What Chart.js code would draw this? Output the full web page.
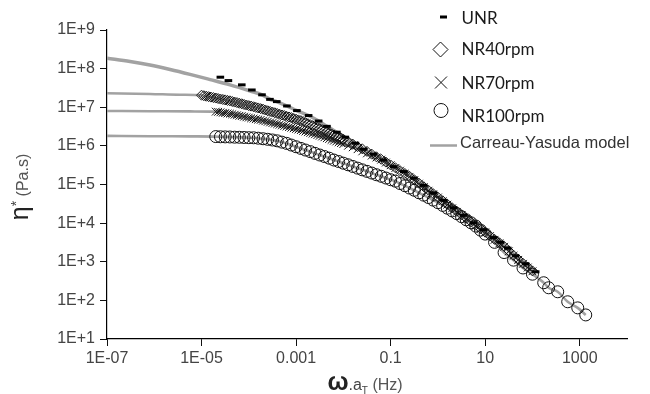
<!DOCTYPE html>
<html>
<head>
<meta charset="utf-8">
<script src="https://cdn.jsdelivr.net/npm/chart.js@4.4.1/dist/chart.umd.min.js"></script>
<style>
  html, body { margin: 0; padding: 0; background: #fff; }
  #wrap { width: 650px; height: 394px; }
</style>
</head>
<body>
<div id="wrap"><canvas id="chart" width="650" height="394"></canvas></div>
<script>
// Complex viscosity master curves (eta*, Pa.s) vs reduced frequency (Hz)

const unrFreq = [2.5e-5, 3.7e-5, 7.1e-5, 1.16e-4, 1.9e-4, 2.8e-4, 3.9e-4, 6.4e-4, 1.04e-3, 1.84e-3,
  3.0e-3, 4.5e-3, 7.3e-3, 0.011, 0.018, 0.027, 0.044, 0.071, 0.116, 0.19,
  0.31, 0.50, 0.81, 1.32, 2.14, 3.5, 5.7, 9.2, 15, 21, 30, 44, 72, 117];
const unrEta = [6.0e7, 4.9e7, 3.8e7, 2.8e7, 2.1e7, 1.6e7, 1.4e7, 1.08e7, 8.2e6, 6.1e6,
  4.4e6, 3.2e6, 2.26e6, 1.68e6, 1.17e6, 8.2e5, 6.1e5, 4.3e5, 2.9e5, 2.16e5,
  1.46e5, 9.5e4, 6.1e4, 3.9e4, 2.5e4, 1.59e4, 1.02e4, 6.7e3, 4.2e3, 3.2e3, 2.25e3, 1.42e3, 880, 550];

const nr40Freq = [
  1e-5, 1.12e-5, 1.26e-5, 1.41e-5, 1.58e-5, 1.78e-5, 2e-5, 2.24e-5, 2.51e-5, 2.82e-5,
  3.16e-5, 3.55e-5, 3.98e-5, 4.47e-5, 5.01e-5, 5.62e-5, 6.31e-5, 7.08e-5, 7.94e-5, 8.91e-5,
  1e-4, 1.12e-4, 1.26e-4, 1.41e-4, 1.58e-4, 1.78e-4, 2e-4, 2.24e-4, 2.51e-4, 2.82e-4,
  3.16e-4, 3.55e-4, 3.98e-4, 4.47e-4, 5.01e-4, 5.62e-4, 6.31e-4, 7.08e-4, 7.94e-4, 8.91e-4,
  1e-3, 1.12e-3, 1.26e-3, 1.41e-3, 1.58e-3, 1.78e-3, 2e-3, 2.24e-3, 2.51e-3, 2.82e-3,
  3.16e-3, 3.55e-3, 3.98e-3, 4.47e-3, 5.01e-3, 5.62e-3, 6.31e-3, 7.08e-3, 7.94e-3, 8.91e-3,
  0.01, 0.0126, 0.0158, 0.02, 0.0251, 0.0316, 0.0398, 0.0501, 0.0631, 0.0794,
  0.1, 0.126, 0.158, 0.2, 0.251, 0.316, 0.398, 0.501, 0.631, 0.794,
  1, 1.26, 1.58, 2, 2.51, 3.16, 3.98, 5.01, 6.31, 7.94,
  10, 12.6, 15.8, 20, 25.1, 31.6, 39.8, 50.1, 63.1, 79.4, 100];
const nr40Eta = [
  2.05e7, 1.99e7, 1.93e7, 1.88e7, 1.83e7, 1.78e7, 1.73e7, 1.68e7, 1.63e7, 1.59e7,
  1.55e7, 1.50e7, 1.47e7, 1.41e7, 1.36e7, 1.32e7, 1.27e7, 1.23e7, 1.18e7, 1.14e7,
  1.10e7, 1.07e7, 1.03e7, 9.9e6, 9.6e6, 9.2e6, 8.9e6, 8.5e6, 8.1e6, 7.8e6,
  7.5e6, 7.2e6, 6.9e6, 6.6e6, 6.3e6, 6.1e6, 5.8e6, 5.6e6, 5.4e6, 5.1e6,
  4.9e6, 4.7e6, 4.5e6, 4.25e6, 4.0e6, 3.76e6, 3.53e6, 3.34e6, 3.15e6, 2.97e6,
  2.80e6, 2.63e6, 2.47e6, 2.32e6, 2.18e6, 2.04e6, 1.91e6, 1.79e6, 1.69e6, 1.58e6,
  1.47e6, 1.28e6, 1.11e6, 9.6e5, 8.4e5, 7.2e5, 6.1e5, 5.2e5, 4.5e5, 3.8e5,
  3.2e5, 2.71e5, 2.28e5, 1.93e5, 1.63e5, 1.33e5, 1.08e5, 8.8e4, 7.1e4, 5.8e4,
  4.7e4, 3.8e4, 3.1e4, 2.5e4, 2.02e4, 1.64e4, 1.33e4, 1.08e4, 8.8e3, 7.2e3,
  5.8e3, 4.7e3, 3.8e3, 3.1e3, 2.51e3, 1.92e3, 1.47e3, 1.16e3, 910, 730, 580];

const nr70Freq = [
  2e-5, 2.24e-5, 2.51e-5, 2.82e-5, 3.16e-5, 3.55e-5, 3.98e-5, 4.47e-5, 5.01e-5, 5.62e-5,
  6.31e-5, 7.08e-5, 7.94e-5, 8.91e-5,
  1e-4, 1.12e-4, 1.26e-4, 1.41e-4, 1.58e-4, 1.78e-4, 2e-4, 2.24e-4, 2.51e-4, 2.82e-4,
  3.16e-4, 3.55e-4, 3.98e-4, 4.47e-4, 5.01e-4, 5.62e-4, 6.31e-4, 7.08e-4, 7.94e-4, 8.91e-4,
  1e-3, 1.12e-3, 1.26e-3, 1.41e-3, 1.58e-3, 1.78e-3, 2e-3, 2.24e-3, 2.51e-3, 2.82e-3,
  3.16e-3, 3.55e-3, 3.98e-3, 4.47e-3, 5.01e-3, 5.62e-3, 6.31e-3, 7.08e-3, 7.94e-3, 8.91e-3,
  0.01, 0.0126, 0.0158, 0.02, 0.0251, 0.0316, 0.0398, 0.0501, 0.0631, 0.0794,
  0.1, 0.126, 0.158, 0.2, 0.251, 0.316, 0.398, 0.501, 0.631, 0.794,
  1, 1.26, 1.58, 2, 2.51, 3.16, 3.98, 5.01, 6.31, 7.94,
  10, 12.6, 15.8, 20, 25.1, 31.6, 39.8, 50.1, 63.1, 79.4, 100];
const nr70Eta = [
  7.7e6, 7.6e6, 7.4e6, 7.2e6, 7.05e6, 6.9e6, 6.8e6, 6.6e6, 6.4e6, 6.2e6,
  6.0e6, 5.9e6, 5.7e6, 5.5e6,
  5.4e6, 5.2e6, 5.1e6, 4.9e6, 4.8e6, 4.7e6, 4.5e6, 4.35e6, 4.2e6, 4.05e6,
  3.91e6, 3.78e6, 3.66e6, 3.53e6, 3.40e6, 3.28e6, 3.17e6, 3.06e6, 2.95e6, 2.85e6,
  2.75e6, 2.65e6, 2.56e6, 2.45e6, 2.35e6, 2.26e6, 2.17e6, 2.08e6, 2.0e6, 1.91e6,
  1.83e6, 1.75e6, 1.67e6, 1.58e6, 1.51e6, 1.43e6, 1.36e6, 1.30e6, 1.24e6, 1.18e6,
  1.12e6, 1.01e6, 9.2e5, 8.2e5, 7.2e5, 6.4e5, 5.6e5, 5.0e5, 4.4e5, 3.7e5,
  3.15e5, 2.68e5, 2.28e5, 1.90e5, 1.58e5, 1.29e5, 1.05e5, 8.5e4, 6.9e4, 5.6e4,
  4.6e4, 3.7e4, 3.0e4, 2.42e4, 1.96e4, 1.59e4, 1.29e4, 1.05e4, 8.5e3, 6.95e3,
  5.7e3, 4.6e3, 3.7e3, 3.0e3, 2.44e3, 1.86e3, 1.43e3, 1.12e3, 885, 708, 566];

const nr100Freq = [2e-5, 2.51e-5, 3.16e-5, 3.98e-5, 5.01e-5, 6.31e-5, 7.94e-5,
  1e-4, 1.26e-4, 1.58e-4, 2e-4, 2.51e-4, 3.16e-4, 3.98e-4, 5.01e-4, 6.31e-4, 7.94e-4,
  1e-3, 1.26e-3, 1.58e-3, 2e-3, 2.51e-3, 3.16e-3, 3.98e-3, 5.01e-3, 6.31e-3, 7.94e-3,
  0.01, 0.0126, 0.0158, 0.02, 0.0251, 0.0316, 0.0398, 0.0501, 0.0631, 0.0794,
  0.1, 0.126, 0.158, 0.2, 0.251, 0.316, 0.398, 0.501, 0.631, 0.794,
  1, 1.26, 1.58, 2, 2.51, 3.16, 3.98, 5.01, 6.31, 7.94, 10,
  15.8, 25.1, 39.8, 63.1, 100,
  173, 220, 342, 557, 908, 1340];
const nr100Eta = [1.74e6, 1.72e6, 1.71e6, 1.70e6, 1.68e6, 1.67e6, 1.65e6,
  1.63e6, 1.62e6, 1.58e6, 1.53e6, 1.48e6, 1.42e6, 1.35e6, 1.25e6, 1.16e6, 1.05e6,
  9.5e5, 8.6e5, 7.8e5, 7.1e5, 6.4e5, 5.8e5, 5.3e5, 4.8e5, 4.3e5, 3.94e5,
  3.56e5, 3.24e5, 2.93e5, 2.65e5, 2.40e5, 2.19e5, 1.98e5, 1.79e5, 1.63e5, 1.47e5,
  1.33e5, 1.22e5, 1.06e5, 9.3e4, 8.1e4, 7.1e4, 6.1e4, 5.3e4, 4.6e4, 3.94e4,
  3.39e4, 2.88e4, 2.44e4, 2.07e4, 1.76e4, 1.47e4, 1.22e4, 1.02e4, 8.4e3, 6.6e3, 5.2e3,
  3.18e3, 1.73e3, 1.10e3, 690, 476,
  286, 212, 167, 92, 64, 42];

// Carreau-Yasuda fits: low-frequency plateau part, then they follow the data
const unrFitFreq = [1e-7, 3.07e-7, 8.1e-7, 2.16e-6, 5.7e-6, 1.52e-5, 4.0e-5, 1.07e-4];
const unrFitEta = [1.85e8, 1.53e8, 1.24e8, 9.5e7, 7.1e7, 5.2e7, 3.8e7, 2.64e7];
const nr40FitFreq = [1e-7, 8.1e-7, 3.5e-6];
const nr40FitEta = [2.31e7, 2.21e7, 2.11e7];
const nr70FitFreq = [1e-7, 8.1e-7, 5.7e-6];
const nr70FitEta = [8.0e6, 7.9e6, 7.8e6];
const nr100FitFreq = [1e-7, 8.1e-7, 5.7e-6];
const nr100FitEta = [1.81e6, 1.78e6, 1.76e6];

const xTickVals = [1e-7, 1e-5, 1e-3, 0.1, 10, 1000];
const xTickLabels = ['1E-07', '1E-05', '0.001', '0.1', '10', '1000'];
const yTickVals = [1e1, 1e2, 1e3, 1e4, 1e5, 1e6, 1e7, 1e8, 1e9];
const yTickLabels = ['1E+1', '1E+2', '1E+3', '1E+4', '1E+5', '1E+6', '1E+7', '1E+8', '1E+9'];

const legendLabels = ['UNR', 'NR40rpm', 'NR70rpm', 'NR100rpm', 'Carreau-Yasuda model'];

const FIT_GREY = '#a2a2a2';
const MARK = '#111';

function toPoints(xs, ys) {
  return xs.map((x, i) => ({ x: x, y: ys[i] }));
}

function fitLine(fx, fy, dx, dy, from, width) {
  return {
    data: toPoints(fx.concat(dx.slice(from)), fy.concat(dy.slice(from))),
    showLine: true,
    pointRadius: 0,
    borderColor: FIT_GREY,
    borderWidth: width,
    cubicInterpolationMode: 'monotone',
    order: 10
  };
}

// axis titles and legend drawn by hand (mixed font sizes)
const decorations = {
  id: 'decorations',
  afterDraw(chart) {
    const ctx = chart.ctx;
    const sans = '"Liberation Sans", Arial, sans-serif';

    function drawPieces(pieces, cx, baseY) {
      let total = 0;
      pieces.forEach(p => { ctx.font = p.font; p.w = ctx.measureText(p.t).width; total += p.w; });
      let x = cx - total / 2;
      pieces.forEach(p => {
        ctx.font = p.font;
        ctx.fillStyle = p.color;
        ctx.fillText(p.t, x, baseY + (p.dy || 0));
        x += p.w;
      });
    }

    ctx.save();
    ctx.textBaseline = 'alphabetic';
    ctx.textAlign = 'left';

    // y title, rotated
    ctx.save();
    ctx.translate(28, 187);
    ctx.rotate(-Math.PI / 2);
    drawPieces([
      { t: 'η', font: '25px ' + sans, color: '#222' },
      { t: '*', font: '14px ' + sans, color: '#444', dy: -7 },
      { t: ' (Pa.s)', font: '16px ' + sans, color: '#555' }
    ], 0, 0);
    ctx.restore();

    // x title
    drawPieces([
      { t: 'ω', font: 'bold 25px ' + sans, color: '#222' },
      { t: '.a', font: '16px ' + sans, color: '#444' },
      { t: 'T', font: '10px ' + sans, color: '#444', dy: 4 },
      { t: ' (Hz)', font: '16px ' + sans, color: '#555' }
    ], 365, 390);

    // legend markers
    ctx.strokeStyle = MARK;
    ctx.fillStyle = '#000';
    ctx.lineWidth = 1;
    ctx.fillRect(440, 15.5, 7, 3);

    ctx.beginPath();
    ctx.moveTo(440.5, 42); ctx.lineTo(448, 49.5); ctx.lineTo(440.5, 57); ctx.lineTo(433, 49.5);
    ctx.closePath();
    ctx.stroke();

    ctx.beginPath();
    ctx.moveTo(435, 76.5); ctx.lineTo(447, 88.5);
    ctx.moveTo(447, 76.5); ctx.lineTo(435, 88.5);
    ctx.stroke();

    ctx.beginPath();
    ctx.arc(441, 110.5, 7, 0, Math.PI * 2);
    ctx.stroke();

    ctx.strokeStyle = FIT_GREY;
    ctx.lineWidth = 2.5;
    ctx.beginPath();
    ctx.moveTo(430, 145.5); ctx.lineTo(457, 145.5);
    ctx.stroke();

    // legend texts
    ctx.textBaseline = 'middle';
    ctx.fillStyle = '#1a1a1a';
    ctx.font = '17px Lato, "Open Sans", sans-serif';
    const ys = [18.5, 49.5, 83.5, 117];
    for (let i = 0; i < 4; i++) ctx.fillText(legendLabels[i], 461.5, ys[i]);
    ctx.fillStyle = '#333';
    ctx.font = '16.5px ' + sans;
    ctx.fillText(legendLabels[4], 460, 143.5);

    ctx.restore();
  }
};

const tickFont = { family: '"Liberation Sans", Arial, sans-serif', size: 16 };

new Chart(document.getElementById('chart'), {
  type: 'scatter',
  data: {
    datasets: [
      {
        data: toPoints(unrFreq, unrEta),
        pointStyle: 'line', pointRadius: 3.8, pointBorderWidth: 3,
        borderColor: '#000', pointBorderColor: '#000', order: 0
      },
      {
        data: toPoints(nr40Freq, nr40Eta),
        pointStyle: 'rectRot', pointRadius: 5, pointBorderWidth: 1,
        pointBorderColor: MARK, pointBackgroundColor: 'rgba(0,0,0,0)', order: 1
      },
      {
        data: toPoints(nr70Freq, nr70Eta),
        pointStyle: 'crossRot', pointRadius: 5.5, pointBorderWidth: 1,
        pointBorderColor: MARK, pointBackgroundColor: 'rgba(0,0,0,0)', order: 2
      },
      {
        data: toPoints(nr100Freq, nr100Eta),
        pointStyle: 'circle', pointRadius: 6, pointBorderWidth: 1,
        pointBorderColor: MARK, pointBackgroundColor: 'rgba(0,0,0,0)', order: 3
      },
      fitLine(unrFitFreq, unrFitEta, unrFreq, unrEta, 4, 3.5),
      fitLine(nr40FitFreq, nr40FitEta, nr40Freq, nr40Eta, 0, 2.6),
      fitLine(nr70FitFreq, nr70FitEta, nr70Freq, nr70Eta, 0, 2.6),
      fitLine(nr100FitFreq, nr100FitEta, nr100Freq, nr100Eta, 0, 2.6)
    ]
  },
  options: {
    responsive: false,
    animation: false,
    devicePixelRatio: 1,
    events: [],
    layout: { padding: { top: 30, right: 23, left: 0, bottom: 0 } },
    plugins: { legend: { display: false }, tooltip: { enabled: false } },
    scales: {
      x: {
        type: 'logarithmic',
        min: 1e-7,
        max: 1e4,
        afterBuildTicks: (s) => { s.ticks = xTickVals.map(v => ({ value: v })); },
        afterFit: (s) => { s.height = 55; },
        ticks: {
          callback: (v, i) => xTickLabels[i],
          font: tickFont, color: '#444', padding: 3,
          maxRotation: 0, autoSkip: false
        },
        grid: { drawOnChartArea: false, color: '#111', tickLength: 7, tickWidth: 1 },
        border: { color: '#000', width: 1.2 }
      },
      y: {
        type: 'logarithmic',
        min: 1e1,
        max: 1e9,
        afterBuildTicks: (s) => { s.ticks = yTickVals.map(v => ({ value: v })); },
        afterFit: (s) => { s.width = 107; },
        ticks: {
          callback: (v, i) => yTickLabels[i],
          font: tickFont, color: '#444', padding: 5, autoSkip: false
        },
        grid: { drawOnChartArea: false, color: '#111', tickLength: 7, tickWidth: 1 },
        border: { color: '#000', width: 1.2 }
      }
    }
  },
  plugins: [decorations]
});
</script>
</body>
</html>
